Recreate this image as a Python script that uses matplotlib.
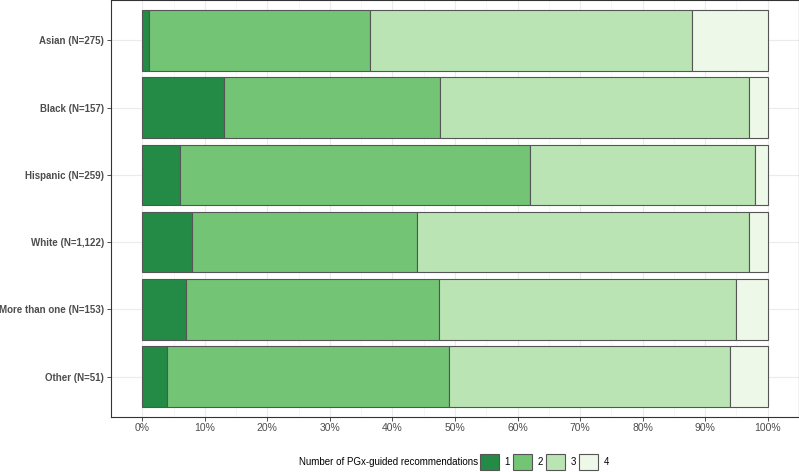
import matplotlib
matplotlib.use("Agg")
import matplotlib.pyplot as plt
from matplotlib.patches import Patch
import numpy as np

# Share of patients by number of PGx-guided recommendations (per group)
groups = ["Asian (N=275)", "Black (N=157)", "Hispanic (N=259)",
          "White (N=1,122)", "More than one (N=153)", "Other (N=51)"]
rec_1 = [1.1, 13.1, 6.0, 8.0, 7.0, 4.0]
rec_2 = [35.3, 34.5, 56.0, 36.0, 40.5, 45.0]
rec_3 = [51.5, 49.4, 36.0, 53.0, 47.5, 45.0]
rec_4 = [12.1, 3.0, 2.0, 3.0, 5.0, 6.0]
levels = ["1", "2", "3", "4"]
colors = ["#238b45", "#74c476", "#bae4b3", "#edf8e9"]

plt.rcParams['font.family'] = ['Liberation Sans', 'DejaVu Sans']
narrow = ['Liberation Sans Narrow', 'Liberation Sans']

fig = plt.figure(figsize=(7.99, 4.72), dpi=100)
ax = fig.add_axes([111 / 799, 55 / 472, 688 / 799, 417 / 472])

series = [rec_1, rec_2, rec_3, rec_4]
y = np.arange(len(groups))[::-1] + 1
left = np.zeros(len(groups))
for vals, col in zip(series, colors):
    v = np.array(vals) / 100
    ax.barh(y, v, left=left, height=0.9, color=col, edgecolor="#555555",
            linewidth=0.8, zorder=3)
    left += v

ax.set_xlim(-0.05, 1.05)
ax.set_ylim(0.4, 6.6)
ax.set_yticks(y)
ax.set_yticklabels(groups, fontsize=7, fontweight="bold", color="#4d4d4d")
xt = np.linspace(0, 1, 11)
ax.set_xticks(xt)
ax.set_xticklabels([f"{int(round(t * 100))}%" for t in xt], fontsize=7.5,
                   color="#4d4d4d", family=narrow)
ax.set_xticks(np.arange(0.05, 1.0, 0.1), minor=True)
ax.tick_params(axis="both", which="major", length=3, width=0.6, color="#333333", pad=2)
ax.tick_params(axis="x", which="major", pad=1.5)
ax.tick_params(axis="x", which="minor", length=0)
ax.grid(True, which="major", color="#ebebeb", linewidth=0.8, zorder=0)
ax.grid(True, which="minor", axis="x", color="#f3f3f3", linewidth=0.5, zorder=0)
for s in ax.spines.values():
    s.set_color("#333333")
    s.set_linewidth(0.8)

# Legend at the bottom, title to the left of the keys
handles = [Patch(facecolor=c, edgecolor="#555555", linewidth=0.8) for c in colors]
fig.text(478 / 799, 10 / 472, "Number of PGx-guided recommendations", ha="right",
         va="center", fontsize=7, family=narrow)
fig.legend(handles, levels, loc="center left", bbox_to_anchor=(480 / 799, 10 / 472),
           ncol=4, frameon=False, handlelength=1.95, handleheight=2.2,
           handletextpad=0.55, columnspacing=0.35, borderpad=0, borderaxespad=0,
           prop={'family': narrow, 'size': 7})

fig.savefig("out.png", dpi=100)
